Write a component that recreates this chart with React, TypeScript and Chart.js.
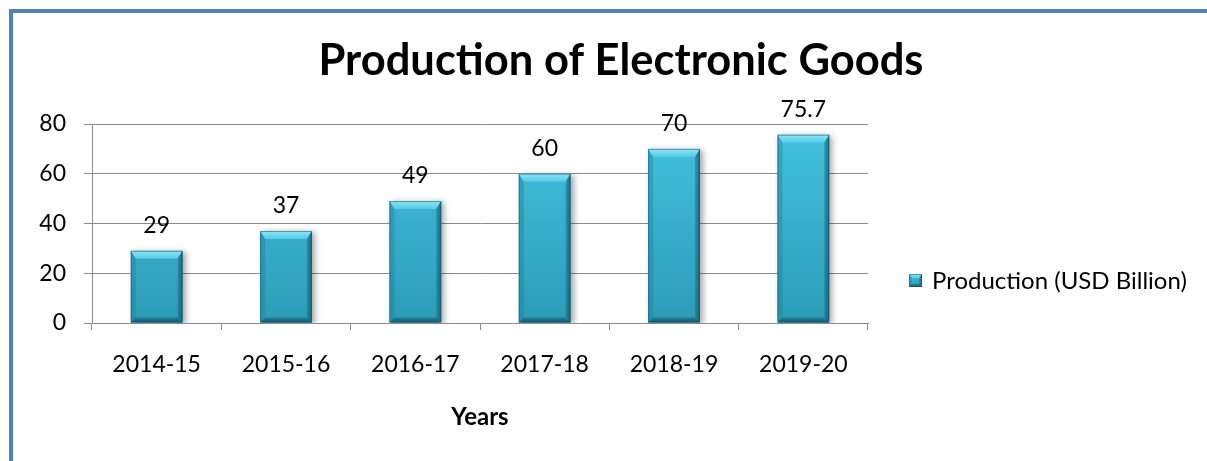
import React, { useEffect, useRef } from "react";
import { Chart, registerables } from "chart.js";

Chart.register(...registerables);

const categories = ["2014-15", "2015-16", "2016-17", "2017-18", "2018-19", "2019-20"];
const production = [29, 37, 49, 60, 70, 75.7];
const seriesLabel = "Production (USD Billion)";
const chartTitle = "Production of Electronic Goods";
const xAxisTitle = "Years";
const yTicks = [0, 20, 40, 60, 80];

const FONT = "Lato, 'Open Sans', sans-serif";
const GRID = "#8c8c8c";

function faceGradient(ctx: CanvasRenderingContext2D, top: number, bottom: number) {
  const g = ctx.createLinearGradient(0, top, 0, bottom);
  g.addColorStop(0, "#43C2DF");
  g.addColorStop(1, "#2C9CB8");
  return g;
}

function drawBevel(ctx: CanvasRenderingContext2D, l: number, t: number, r: number, b: number, bw: number, sw: number) {
  // top bevel
  const gt = ctx.createLinearGradient(0, t, 0, t + bw);
  gt.addColorStop(0, "#8FE6F6");
  gt.addColorStop(1, "#52CAE5");
  ctx.fillStyle = gt;
  ctx.beginPath();
  ctx.moveTo(l, t);
  ctx.lineTo(r, t);
  ctx.lineTo(r - sw, t + bw);
  ctx.lineTo(l + sw, t + bw);
  ctx.closePath();
  ctx.fill();
  // left bevel
  ctx.fillStyle = "rgba(30,120,145,0.35)";
  ctx.beginPath();
  ctx.moveTo(l, t);
  ctx.lineTo(l + sw, t + bw);
  ctx.lineTo(l + sw, b - sw);
  ctx.lineTo(l, b);
  ctx.closePath();
  ctx.fill();
  // right bevel
  const gr = ctx.createLinearGradient(r - sw, 0, r, 0);
  gr.addColorStop(0, "rgba(20,95,115,0.35)");
  gr.addColorStop(1, "rgba(15,75,95,0.75)");
  ctx.fillStyle = gr;
  ctx.beginPath();
  ctx.moveTo(r, t);
  ctx.lineTo(r, b);
  ctx.lineTo(r - sw, b - sw);
  ctx.lineTo(r - sw, t + bw);
  ctx.closePath();
  ctx.fill();
  // bottom bevel
  const gb = ctx.createLinearGradient(0, b - sw, 0, b);
  gb.addColorStop(0, "rgba(20,90,110,0.45)");
  gb.addColorStop(1, "rgba(12,70,88,0.8)");
  ctx.fillStyle = gb;
  ctx.beginPath();
  ctx.moveTo(l, b);
  ctx.lineTo(r, b);
  ctx.lineTo(r - sw, b - sw);
  ctx.lineTo(l + sw, b - sw);
  ctx.closePath();
  ctx.fill();
  // thin outline
  ctx.strokeStyle = "rgba(20,85,105,0.55)";
  ctx.lineWidth = 1;
  ctx.strokeRect(l + 0.5, t + 0.5, r - l - 1, b - t - 1);
}

const decorPlugin = {
  id: "decor",
  beforeDraw(chart: any) {
    const ctx = chart.ctx as CanvasRenderingContext2D;
    ctx.save();
    ctx.fillStyle = "#ffffff";
    ctx.fillRect(0, 0, chart.width, chart.height);
    ctx.strokeStyle = "#4F81BD";
    ctx.lineWidth = 4;
    ctx.strokeRect(11, 11, 3000, 3000);
    ctx.restore();
  },
  beforeDatasetsDraw(chart: any) {
    const ctx = chart.ctx as CanvasRenderingContext2D;
    ctx.save();
    ctx.shadowColor = "rgba(0,0,0,0.35)";
    ctx.shadowBlur = 6;
    ctx.shadowOffsetX = 3;
    ctx.shadowOffsetY = 1;
  },
  afterDatasetsDraw(chart: any) {
    const ctx = chart.ctx as CanvasRenderingContext2D;
    ctx.restore();
    const meta = chart.getDatasetMeta(0);
    const data = chart.data.datasets[0].data as number[];
    meta.data.forEach((bar: any, i: number) => {
      const p = bar.getProps(["x", "y", "base", "width"], true);
      const l = p.x - p.width / 2;
      const r = p.x + p.width / 2;
      ctx.save();
      drawBevel(ctx, l, p.y, r, p.base, 8, 5);
      ctx.restore();
      ctx.save();
      ctx.fillStyle = "#000";
      ctx.font = `23px ${FONT}`;
      ctx.textAlign = "center";
      ctx.textBaseline = "alphabetic";
      ctx.fillText(String(data[i]), p.x, p.y - 18);
      ctx.restore();
    });
  },
  afterDraw(chart: any) {
    const ctx = chart.ctx as CanvasRenderingContext2D;
    ctx.save();
    ctx.fillStyle = "#000";
    ctx.font = `bold 43.5px ${FONT}`;
    ctx.textAlign = "center";
    ctx.textBaseline = "alphabetic";
    ctx.fillText(chartTitle, 621, 75);
    // legend
    const bx = 909, by = 274, bs = 13;
    ctx.fillStyle = faceGradient(ctx, by, by + bs);
    ctx.fillRect(bx, by, bs, bs);
    drawBevel(ctx, bx, by, bx + bs, by + bs, 4, 3);
    ctx.fillStyle = "#000";
    ctx.font = `24px ${FONT}`;
    ctx.textAlign = "left";
    ctx.textBaseline = "middle";
    ctx.fillText(chart.data.datasets[0].label, 932, 281);
    ctx.restore();
  },
};

export default function App() {
  const ref = useRef<HTMLCanvasElement | null>(null);
  useEffect(() => {
    if (!ref.current) return;
    const chart = new Chart(ref.current, {
      type: "bar",
      data: {
        labels: categories,
        datasets: [
          {
            label: seriesLabel,
            data: production,
            backgroundColor: (c: any) => {
              const area = c.chart.chartArea;
              if (!area) return "#38B2CF";
              return faceGradient(c.chart.ctx, area.top, area.bottom);
            },
            borderWidth: 0,
            barPercentage: 0.4,
            categoryPercentage: 1,
          },
        ],
      },
      options: {
        animation: false,
        responsive: false,
        maintainAspectRatio: false,
        layout: { padding: { top: 124, right: 339, bottom: 0, left: 0 } },
        plugins: {
          legend: { display: false },
          title: { display: false },
          tooltip: { enabled: false },
        },
        scales: {
          x: {
            afterFit: (s: any) => {
              s.height = 138;
            },
            grid: {
              drawOnChartArea: false,
              drawTicks: true,
              tickLength: 7,
              color: GRID,
              offset: true,
            },
            border: { color: GRID, width: 1 },
            ticks: { color: "#000", font: { family: FONT, size: 23 }, padding: 21, maxRotation: 0 },
            title: {
              display: true,
              text: xAxisTitle,
              color: "#000",
              font: { family: FONT, size: 24, weight: "bold" },
              padding: { top: 0, bottom: 29 },
            },
          },
          y: {
            min: yTicks[0],
            max: yTicks[yTicks.length - 1],
            afterFit: (s: any) => {
              s.width = 92;
            },
            ticks: {
              stepSize: yTicks[1] - yTicks[0],
              color: "#000",
              font: { family: FONT, size: 23 },
              padding: 18,
            },
            grid: { color: GRID, drawTicks: true, tickLength: 8 },
            border: { color: GRID, width: 1 },
          },
        },
      },
      plugins: [decorPlugin],
    });
    return () => chart.destroy();
  }, []);
  return (
    <div style={{ position: "fixed", left: 0, top: 0, width: 1207, height: 461 }}>
      <canvas ref={ref} width={1207} height={461} style={{ display: "block", width: 1207, height: 461 }} />
    </div>
  );
}
